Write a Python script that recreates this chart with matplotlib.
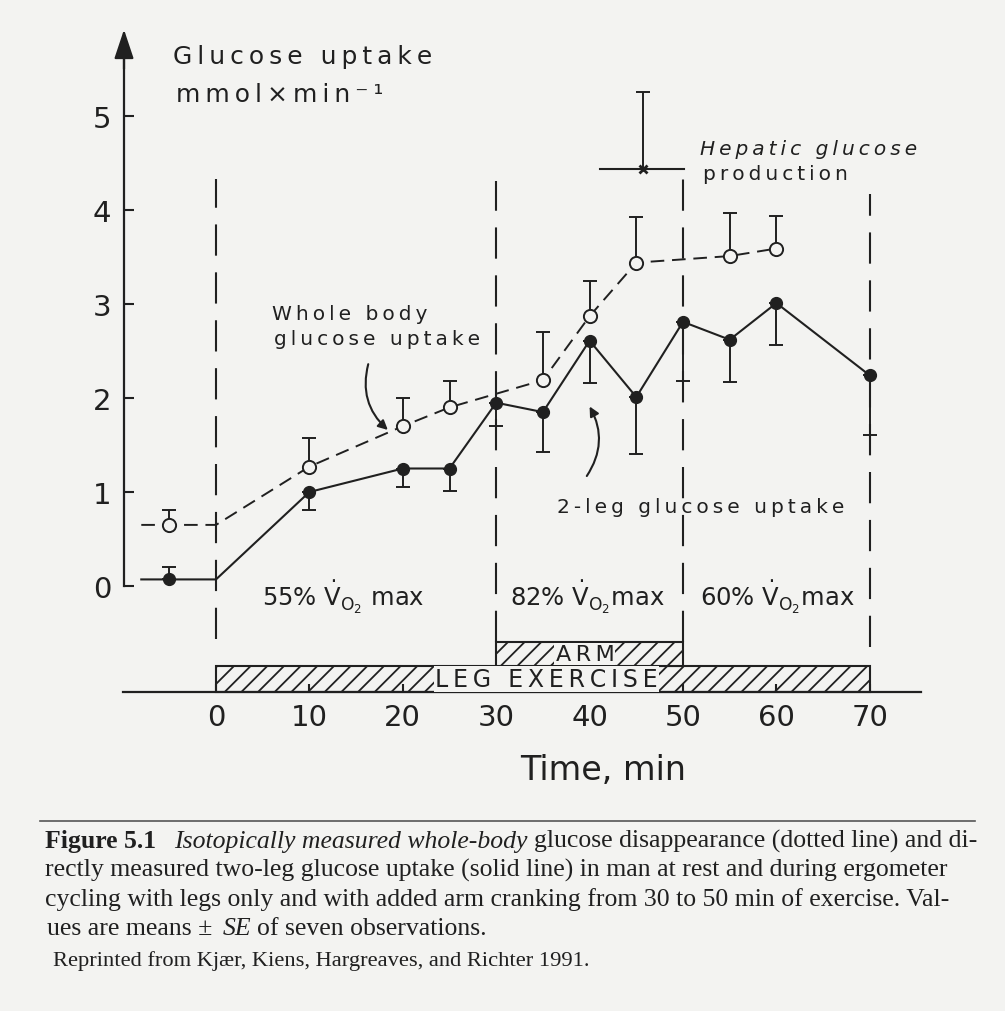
import numpy as np
import matplotlib
matplotlib.use("Agg")
import matplotlib.pyplot as plt

# ---- values (time in min, glucose in mmol/min) ----
# 2-leg glucose uptake (solid line); rest at -5 min, the -8/0 points only carry the line
leg_t = np.array([-8, -5, 0, 10, 20, 25, 30, 35, 40, 45, 50, 55, 60, 70])
leg_v = np.array([0.07, 0.07, 0.07, 1.00, 1.25, 1.25, 1.95, 1.85, 2.61, 2.01, 2.81, 2.62, 3.01, 2.24])
leg_mark = np.array([0, 1, 0, 1, 1, 1, 1, 1, 1, 1, 1, 1, 1, 1], dtype=bool)
leg_cap = np.array([0.20, 0.81, 1.05, 1.01, 1.70, 1.43, 2.16, 1.40, 2.18, 2.17, 2.56, 1.61])  # end of SE bar

# whole body glucose uptake (dashed line)
wb_t = np.array([-8, -5, 0, 10, 20, 25, 35, 40, 45, 55, 60])
wb_v = np.array([0.65, 0.65, 0.65, 1.27, 1.70, 1.90, 2.19, 2.87, 3.44, 3.51, 3.59])
wb_mark = np.array([0, 1, 0, 1, 1, 1, 1, 1, 1, 1, 1], dtype=bool)
wb_cap = np.array([0.81, 1.57, 2.00, 2.18, 2.70, 3.24, 3.93, 3.97, 3.94])

# hepatic glucose production (one value over 40-50 min)
hep_t, hep_v, hep_cap = 45.7, 4.44, 5.26
hep_span = (41.1, 50.1)

# exercise phases
phase_t = [0, 30, 50, 70]
phase_top = [4.33, 4.31, 4.36, 4.17]
phase_bot = [-0.56, -0.60, -0.60, -0.65]
phase_lbl = ["55% $\\dot{\\mathrm{V}}_{\\mathrm{O_2}}$ max",
             "82% $\\dot{\\mathrm{V}}_{\\mathrm{O_2}}$max",
             "60% $\\dot{\\mathrm{V}}_{\\mathrm{O_2}}$max"]
phase_lbl_t = [4.9, 31.5, 51.8]

# leg / arm exercise bars
ex_names = ["LEG EXERCISE", "ARM"]
ex_start = [0, 30]
ex_len = [70, 20]

BG = "#f3f3f1"
INK = "#202020"
W, H = 1005, 1012


def spaced(s):
    # wide letter spacing like the stencil lettering of the scan
    return "\u2009".join(s)


fig = plt.figure(figsize=(W / 100, H / 100), dpi=100, facecolor=BG)

# axes placed so that t=0 -> x 216 px, value 0 -> y 587 px
X0, XS, Y0, YS = 216, 9.34, 587, 94.0
xlim, ylim = (-22, 80), (-1.6, 6.0)
l, r = X0 + XS * xlim[0], X0 + XS * xlim[1]
t_, b = Y0 - YS * ylim[1], Y0 - YS * ylim[0]
ax = fig.add_axes([l / W, 1 - b / H, (r - l) / W, (b - t_) / H])
ax.set_xlim(xlim); ax.set_ylim(ylim)
ax.patch.set_alpha(0)

for s in ("top", "right"):
    ax.spines[s].set_visible(False)
ax.spines["left"].set_position(("data", -9.85))
ax.spines["left"].set_bounds(0, 5.7)
ax.spines["bottom"].set_position(("data", -1.128))
ax.spines["bottom"].set_bounds(-10, 75.5)
for s in ("left", "bottom"):
    ax.spines[s].set_linewidth(1.6); ax.spines[s].set_color(INK)
ax.set_yticks(range(6)); ax.set_xticks(range(0, 71, 10))
ax.tick_params(direction="in", colors=INK, labelsize=21, width=1.5)
ax.tick_params(axis="y", length=7, pad=9)
ax.tick_params(axis="x", length=6, pad=8)
ax.annotate("", xy=(-9.85, 5.92), xytext=(-9.85, 5.5),
            arrowprops=dict(arrowstyle="-|>,head_length=0.9,head_width=0.3",
                            color=INK, lw=1.6, mutation_scale=20, shrinkA=0, shrinkB=0))

# phase boundaries
ax.vlines(phase_t, phase_bot, phase_top, colors=INK, lw=1.5, linestyles=[(0, (15, 8))])
for lbl, x in zip(phase_lbl, phase_lbl_t):
    ax.text(x, -0.21, lbl, fontsize=17.5, color=INK, va="baseline")

# exercise bars
plt.rcParams["hatch.linewidth"] = 1.3
bar_bottom = [-1.128, -0.851]
bar_h = [0.277, 0.255]
ax.bar(ex_start, bar_h, width=ex_len, bottom=bar_bottom, align="edge",
       facecolor=BG, edgecolor=INK, hatch="//", lw=1.5)
ax.text(35.4, -0.99, spaced(ex_names[0]), fontsize=17, color=INK, ha="center", va="center",
        bbox=dict(boxstyle="square,pad=0.05", fc=BG, ec="none"))
ax.text(39.5, -0.72, spaced(ex_names[1]), fontsize=16, color=INK, ha="center", va="center",
        bbox=dict(boxstyle="square,pad=0.05", fc=BG, ec="none"))

# whole body (dashed)
ax.plot(wb_t, wb_v, color=INK, lw=1.4, ls=(0, (7, 4)))
up = wb_cap - wb_v[wb_mark]
ax.errorbar(wb_t[wb_mark], wb_v[wb_mark], yerr=[np.zeros_like(up), up], fmt="none",
            ecolor=INK, elinewidth=1.4, capsize=5, capthick=1.4)
ax.plot(wb_t[wb_mark], wb_v[wb_mark], ls="none", marker="o", ms=9.5, mfc=BG, mec=INK, mew=1.4)

# 2-leg (solid)
ax.plot(leg_t, leg_v, color=INK, lw=1.5)
lv = leg_v[leg_mark]
ax.errorbar(leg_t[leg_mark], lv, yerr=[np.clip(lv - leg_cap, 0, None), np.clip(leg_cap - lv, 0, None)],
            fmt="none", ecolor=INK, elinewidth=1.4, capsize=5, capthick=1.4)
ax.plot(leg_t[leg_mark], lv, ls="none", marker="o", ms=8.5, color=INK)

# hepatic glucose production
ax.plot(hep_span, [hep_v, hep_v], color=INK, lw=1.5)
ax.errorbar([hep_t], [hep_v], yerr=[[0], [hep_cap - hep_v]], fmt="none",
            ecolor=INK, elinewidth=1.4, capsize=5, capthick=1.4)
ax.plot([hep_t], [hep_v], ls="none", marker="x", ms=6, mew=2, color=INK)

# labels
ax.text(-4.6, 5.56, spaced("Glucose uptake"), fontsize=18, color=INK, va="baseline")
ax.text(-4.3, 5.16, spaced("mmol×min⁻¹"), fontsize=18, color=INK, va="baseline")
ax.text(51.8, 4.60, spaced("Hepatic glucose"), fontsize=14.5, style="italic", color=INK, va="baseline")
ax.text(52.1, 4.33, spaced("production"), fontsize=14.5, color=INK, va="baseline")
ax.text(6.0, 2.84, spaced("Whole body"), fontsize=14.5, color=INK, va="baseline")
ax.text(6.2, 2.57, spaced("glucose uptake"), fontsize=14.5, color=INK, va="baseline")
ax.text(36.5, 0.79, spaced("2-leg glucose uptake"), fontsize=14.5, color=INK, va="baseline")
ax.annotate("", xy=(18.4, 1.66), xytext=(16.3, 2.36),
            arrowprops=dict(arrowstyle="-|>", connectionstyle="arc3,rad=0.3", color=INK,
                            lw=1.5, mutation_scale=14, shrinkA=0, shrinkB=0))
ax.annotate("", xy=(40.0, 1.91), xytext=(39.7, 1.17),
            arrowprops=dict(arrowstyle="-|>", connectionstyle="arc3,rad=0.3", color=INK,
                            lw=1.5, mutation_scale=14, shrinkA=0, shrinkB=0))
ax.text(41.4, -1.95, "Time, min", fontsize=24, color=INK, ha="center", va="center")

# caption
fig.add_artist(plt.Line2D([40 / W, 975 / W], [1 - 822 / H, 1 - 822 / H], color="#555555", lw=1.2))
rend = fig.canvas.get_renderer()
SERIF = "Liberation Serif"


def cap_line(runs, x, y, size):
    for txt, kw, gap in runs:
        t = fig.text(x / W, 1 - y / H, txt, fontsize=size, family=SERIF, color=INK,
                     va="baseline", **kw)
        x += t.get_window_extent(rend).width + gap


CS = 18.5
cap_line([("Figure 5.1", dict(weight="bold"), 18),
          ("Isotopically measured whole-body", dict(style="italic"), 6),
          ("glucose disappearance (dotted line) and di-", {}, 0)], 45, 848, CS)
cap_line([("rectly measured two-leg glucose uptake (solid line) in man at rest and during ergometer", {}, 0)],
         45, 877, CS)
cap_line([("cycling with legs only and with added arm cranking from 30 to 50 min of exercise. Val-", {}, 0)],
         45, 906, CS)
cap_line([("ues are means ± ", {}, 4), ("SE", dict(style="italic"), 5),
          ("of seven observations.", {}, 0)], 47, 935, CS)
cap_line([("Reprinted from Kjær, Kiens, Hargreaves, and Richter 1991.", {}, 0)], 53, 966, 16.2)

fig.savefig("out.png", dpi=100, facecolor=BG)
